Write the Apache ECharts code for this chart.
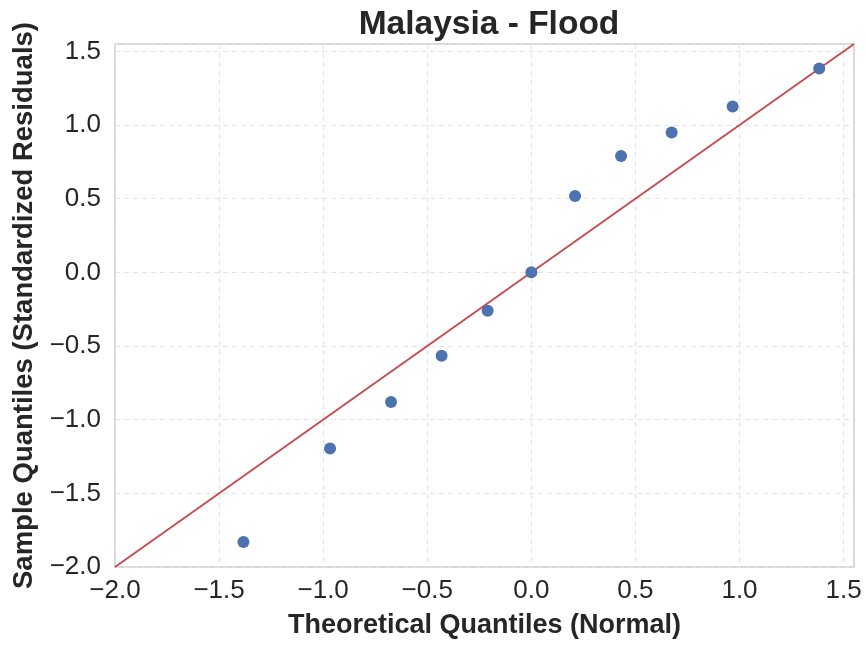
<!DOCTYPE html>
<html>
<head>
<meta charset="utf-8">
<script src="https://cdn.jsdelivr.net/npm/echarts@6/dist/echarts.min.js"></script>
<style>
  html, body { margin: 0; padding: 0; background: #fff; }
  #chart { width: 866px; height: 646px; }
</style>
</head>
<body>
<div id="chart"></div>
<script>
// theoretical normal quantiles (n = 11) and standardized residuals
const theoretical = [-1.383, -0.967, -0.674, -0.431, -0.210, 0.0, 0.210, 0.431, 0.674, 0.967, 1.383]
const sample = [-1.83, -1.195, -0.88, -0.566, -0.26, 0.0, 0.519, 0.79, 0.95, 1.126, 1.383]
// 45 degree reference line
const refLine = [-2.0, 1.55]

const axisMin = -2.0
const axisMax = 1.55
const font = 'Liberation Sans, Arial, sans-serif'

const fmt = v => Math.abs(v * 2 - Math.round(v * 2)) > 1e-6 ? '' : v.toFixed(1).replace('-', '\u2212')

const chart = echarts.init(document.getElementById('chart'))
chart.setOption({
  animation: false,
  backgroundColor: '#fff',
  title: {
    text: 'Malaysia - Flood',
    left: 484,
    textAlign: 'center',
    top: 3,
    textStyle: { fontFamily: font, fontSize: 33.5, fontWeight: 'bold', color: '#262626' }
  },
  grid: {
    left: 115,
    right: 12,
    top: 44,
    bottom: 79,
    show: true,
    borderColor: '#cccccc',
    borderWidth: 1.5
  },
  xAxis: {
    type: 'value',
    min: axisMin,
    max: axisMax,
    interval: 0.5,
    name: 'Theoretical Quantiles (Normal)',
    nameLocation: 'middle',
    nameGap: 45,
    nameTextStyle: { fontFamily: font, fontSize: 27, fontWeight: 'bold', color: '#262626' },
    axisLine: { show: false },
    axisTick: { show: false },
    axisLabel: { fontFamily: font, fontSize: 26, color: '#262626', margin: 11, formatter: fmt, showMaxLabel: false },
    splitLine: { show: true, lineStyle: { color: '#e3e3e3', type: [5, 4], width: 1 } }
  },
  yAxis: {
    type: 'value',
    min: axisMin,
    max: axisMax,
    interval: 0.5,
    name: 'Sample Quantiles (Standardized Residuals)',
    nameLocation: 'middle',
    nameGap: 75,
    nameTextStyle: { fontFamily: font, fontSize: 27.5, fontWeight: 'bold', color: '#262626' },
    axisLine: { show: false },
    axisTick: { show: false },
    axisLabel: { fontFamily: font, fontSize: 26, color: '#262626', margin: 14, formatter: fmt, showMaxLabel: false },
    splitLine: { show: true, lineStyle: { color: '#e3e3e3', type: [5, 4], width: 1 } }
  },
  series: [
    {
      type: 'line',
      data: refLine.map(v => [v, v]),
      symbol: 'none',
      lineStyle: { color: '#c44e52', width: 2 },
      z: 2
    },
    {
      type: 'scatter',
      data: theoretical.map((x, i) => [x, sample[i]]),
      symbolSize: 12,
      itemStyle: { color: '#4c72b0', opacity: 1 },
      z: 3
    }
  ]
})
</script>
</body>
</html>
